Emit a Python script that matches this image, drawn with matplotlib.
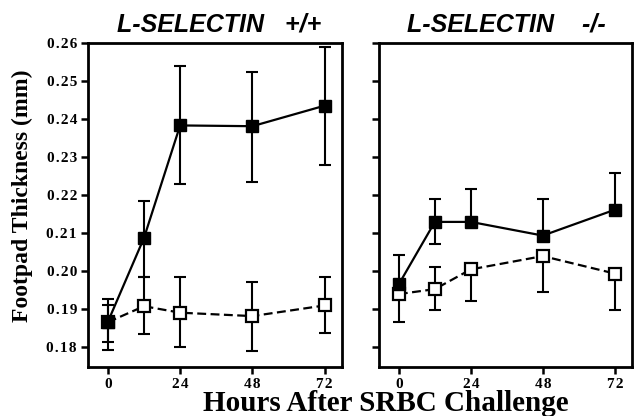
import numpy as np
import matplotlib
matplotlib.use('Agg')
import matplotlib.pyplot as plt

# hours after challenge
hours = [0, 12, 24, 48, 72]

# L-selectin +/+ : filled = challenged, open = control
wt_filled = [0.1866, 0.2087, 0.2383, 0.2381, 0.2435]
wt_filled_hi = [0.1925, 0.2185, 0.2540, 0.2525, 0.2590]
wt_filled_lo = [0.1813, 0.1985, 0.2230, 0.2235, 0.2280]
wt_open = [0.1865, 0.1907, 0.1890, 0.1881, 0.1909]
wt_open_hi = [0.1910, 0.1985, 0.1985, 0.1972, 0.1985]
wt_open_lo = [0.1792, 0.1835, 0.1800, 0.1790, 0.1837]

# L-selectin -/-
ko_filled = [0.1965, 0.2129, 0.2129, 0.2093, 0.2161]
ko_filled_hi = [0.2042, 0.2189, 0.2215, 0.2189, 0.2258]
ko_filled_lo = [0.1965, 0.2071, 0.2129, 0.2093, 0.2161]
ko_open = [0.1939, 0.1952, 0.2004, 0.2039, 0.1993]
ko_open_hi = [0.1939, 0.2009, 0.2004, 0.2039, 0.1993]
ko_open_lo = [0.1865, 0.1896, 0.1922, 0.1945, 0.1896]

yticks = [0.18, 0.19, 0.20, 0.21, 0.22, 0.23, 0.24, 0.25, 0.26]
xticks = [0, 24, 48, 72]

serif = ['Liberation Serif', 'DejaVu Serif']
sans = 'Liberation Sans'
HAIR = '\u200a'


def spaced(s):
    # the scanned tick labels are letter-spaced
    return HAIR.join(s)


fig = plt.figure(figsize=(6.36, 4.16), dpi=100)
ax1 = fig.add_axes([0.1384, 0.1178, 0.3994, 0.7788])
ax2 = fig.add_axes([0.596, 0.1178, 0.398, 0.7788])


def draw(ax, f, fhi, flo, o, ohi, olo):
    f = np.array(f); o = np.array(o)
    ferr = [f - np.array(flo), np.array(fhi) - f]
    oerr = [o - np.array(olo), np.array(ohi) - o]
    ax.errorbar(hours, o, yerr=oerr, fmt='none', ecolor='black', elinewidth=1.5,
                capsize=4, capthick=1.5, zorder=2)
    ax.errorbar(hours, f, yerr=ferr, fmt='none', ecolor='black', elinewidth=1.5,
                capsize=4, capthick=1.5, zorder=2)
    ax.plot(hours, o, color='black', linestyle=(0, (4, 2)), linewidth=1.6,
            marker='s', markersize=8, markerfacecolor='white',
            markeredgecolor='black', markeredgewidth=1.6, zorder=3)
    ax.plot(hours, f, color='black', linewidth=1.6, marker='s', markersize=8.5,
            markerfacecolor='black', markeredgecolor='black', zorder=4)
    ax.set_xlim(-6.6, 77.8)
    ax.set_ylim(0.1747, 0.26)
    ax.set_xticks(xticks)
    ax.set_yticks(yticks)
    ax.set_xticklabels([spaced(str(h)) for h in xticks], fontfamily=serif,
                       fontweight='bold', fontsize=11)
    for s in ax.spines.values():
        s.set_linewidth(2)
    ax.tick_params(direction='out', width=1.8, length=5, pad=3)


draw(ax1, wt_filled, wt_filled_hi, wt_filled_lo, wt_open, wt_open_hi, wt_open_lo)
draw(ax2, ko_filled, ko_filled_hi, ko_filled_lo, ko_open, ko_open_hi, ko_open_lo)

ax1.set_yticklabels([spaced('%.2f' % v) for v in yticks], fontfamily=serif,
                    fontweight='bold', fontsize=11)
ax2.set_yticklabels([])

fig.text(0.345, 0.94, 'L-SELECTIN   +/+', fontfamily=sans, fontweight='bold',
         fontstyle='italic', fontsize=18, ha='center', va='center')
fig.text(0.796, 0.94, 'L-SELECTIN    -/-', fontfamily=sans, fontweight='bold',
         fontstyle='italic', fontsize=18, ha='center', va='center')

fig.text(0.036, 0.529, 'Footpad Thickness (mm)', fontfamily=serif,
         fontweight='bold', fontsize=17, rotation=90, ha='center', va='center')
fig.text(0.607, 0.012, 'Hours After SRBC Challenge', fontfamily=serif,
         fontweight='bold', fontsize=21, ha='center', va='baseline')

fig.savefig('out.png', dpi=100)
